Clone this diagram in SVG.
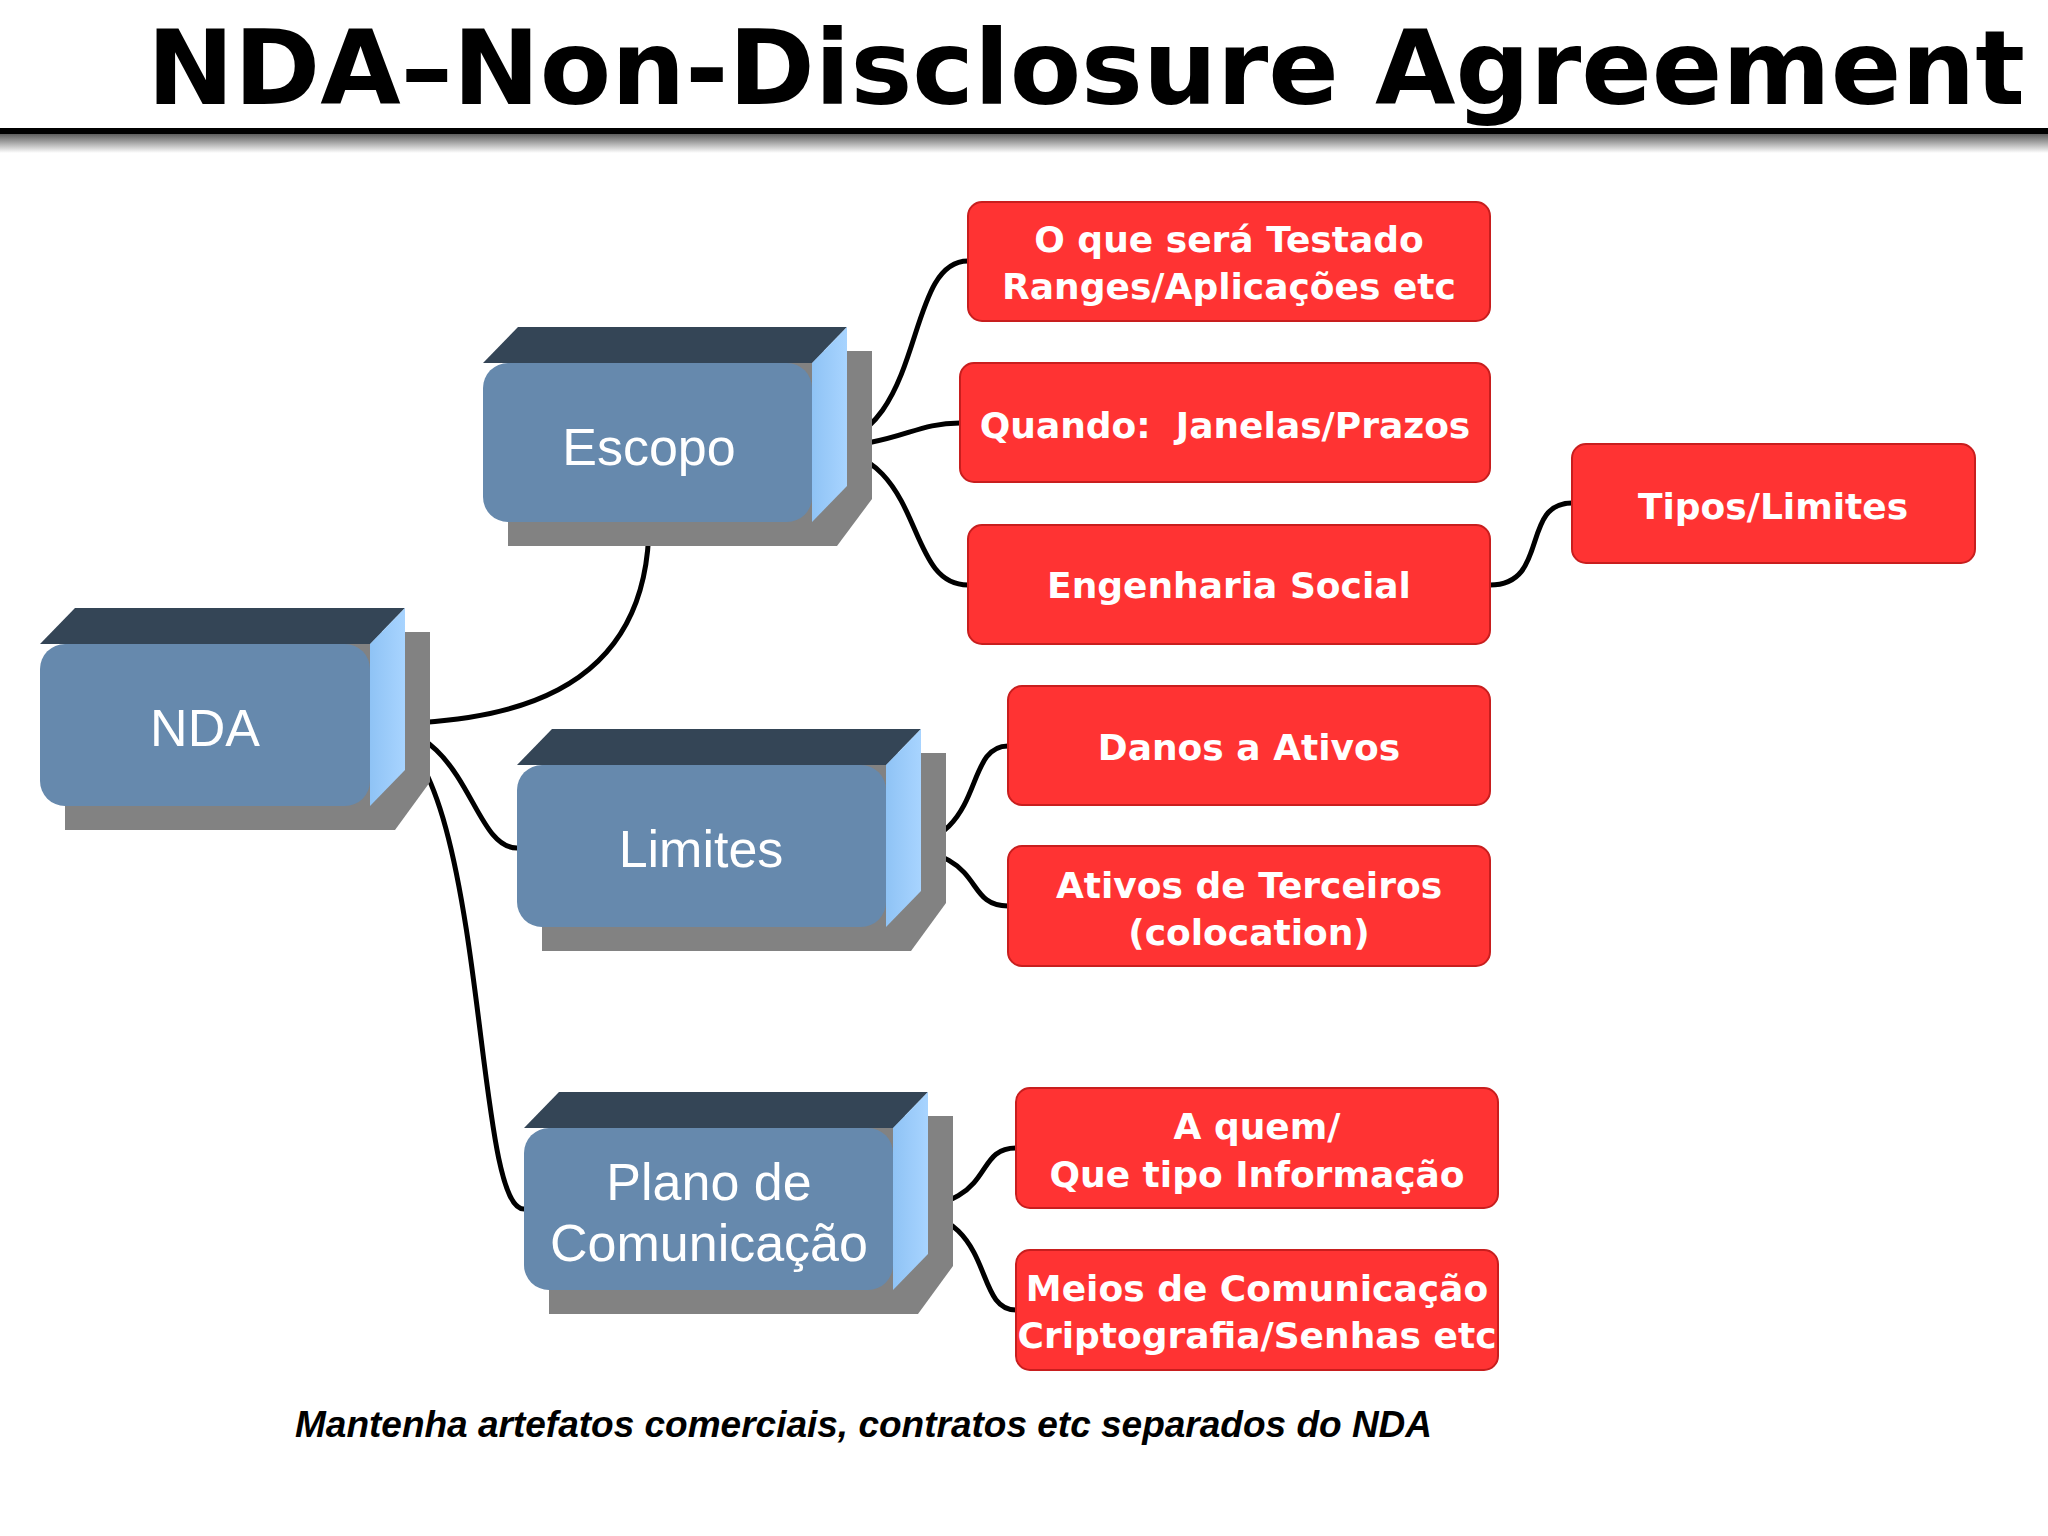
<svg xmlns="http://www.w3.org/2000/svg" width="2048" height="1536" viewBox="0 0 2048 1536">
<defs>
<linearGradient id="sh" x1="0" y1="0" x2="0" y2="1"><stop offset="0" stop-color="#555"/><stop offset="1" stop-color="#fff"/></linearGradient>
<linearGradient id="side" x1="0" y1="0" x2="1" y2="0"><stop offset="0" stop-color="#8fc3f5"/><stop offset="1" stop-color="#a8d4ff"/></linearGradient>
<style>
.sh{fill:#828282}.top{fill:#344556}.side{fill:url(#side)}.front{fill:#6689ad}
.bt{font-family:"Liberation Sans",Arial,sans-serif;font-size:52px;fill:#fff;text-anchor:middle}
.rb{fill:#ff3333;stroke:#c81e1e;stroke-width:2}
.rt{font-family:"DejaVu Sans",sans-serif;font-weight:bold;font-size:36px;fill:#fff;text-anchor:middle}
.c{fill:none;stroke:#000;stroke-width:5}
</style>
</defs>
<rect width="2048" height="1536" fill="#fff"/>
<text x="2025" y="104" font-family="DejaVu Sans, sans-serif" font-weight="bold" font-size="104" text-anchor="end">NDA–Non-Disclosure Agreement</text>
<rect x="0" y="133" width="2048" height="20" fill="url(#sh)"/>
<rect x="0" y="128" width="2048" height="6" fill="#000"/>

<g id="connectors">
<path class="c" d="M812,447 C930,447 900,261 968,261"/>
<path class="c" d="M812,447 C900,447 910,423 960,423"/>
<path class="c" d="M812,447 C930,447 900,585 968,585"/>
<path class="c" d="M1490,585 C1550,585 1520,503 1572,503"/>
<path class="c" d="M649,522 C649,700 500,724 370,724"/>
<path class="c" d="M370,724 C470,724 470,848 517,848"/>
<path class="c" d="M370,724 C490,724 470,1209 524,1209"/>
<path class="c" d="M886,848 C990,848 960,746 1008,746"/>
<path class="c" d="M886,848 C990,848 960,906 1008,906"/>
<path class="c" d="M893,1209 C1000,1209 970,1148 1016,1148"/>
<path class="c" d="M893,1209 C1000,1209 970,1310 1016,1310"/>
</g>

<g id="nda" transform="translate(40,644)">
<path class="sh" d="M25,24 L60,-12 L390,-12 L390,138 L355,186 L25,186 Z"/>
<path class="top" d="M0,0 L35,-36 L365,-36 L330,0 Z"/>
<path class="side" d="M330,0 L365,-36 L365,126 L330,162 Z"/>
<rect class="front" x="0" y="0" width="330" height="162" rx="25"/>
<text class="bt" x="165" y="102">NDA</text>
</g>
<g id="escopo" transform="translate(483,363)">
<path class="sh" d="M25,24 L60,-12 L389,-12 L389,136 L354,183 L25,183 Z"/>
<path class="top" d="M0,0 L35,-36 L364,-36 L329,0 Z"/>
<path class="side" d="M329,0 L364,-36 L364,123 L329,159 Z"/>
<rect class="front" x="0" y="0" width="329" height="159" rx="25"/>
<text class="bt" x="166" y="102">Escopo</text>
</g>
<g id="limites" transform="translate(517,765)">
<path class="sh" d="M25,24 L60,-12 L429,-12 L429,138 L394,186 L25,186 Z"/>
<path class="top" d="M0,0 L35,-36 L404,-36 L369,0 Z"/>
<path class="side" d="M369,0 L404,-36 L404,126 L369,162 Z"/>
<rect class="front" x="0" y="0" width="369" height="162" rx="25"/>
<text class="bt" x="184" y="102">Limites</text>
</g>
<g id="plano" transform="translate(524,1128)">
<path class="sh" d="M25,24 L60,-12 L429,-12 L429,138 L394,186 L25,186 Z"/>
<path class="top" d="M0,0 L35,-36 L404,-36 L369,0 Z"/>
<path class="side" d="M369,0 L404,-36 L404,126 L369,162 Z"/>
<rect class="front" x="0" y="0" width="369" height="162" rx="25"/>
<text class="bt" x="185" y="72">Plano de</text>
<text class="bt" x="185" y="133">Comunicação</text>
</g>

<g id="r1"><rect class="rb" x="968" y="202" width="522" height="119" rx="14"/><text class="rt" x="1229" y="252">O que será Testado</text><text class="rt" x="1229" y="299">Ranges/Aplicações etc</text></g>
<g id="r2"><rect class="rb" x="960" y="363" width="530" height="119" rx="14"/><text class="rt" x="1225" y="438" xml:space="preserve">Quando:  Janelas/Prazos</text></g>
<g id="r3"><rect class="rb" x="968" y="525" width="522" height="119" rx="14"/><text class="rt" x="1229" y="598">Engenharia Social</text></g>
<g id="r4"><rect class="rb" x="1572" y="444" width="403" height="119" rx="14"/><text class="rt" x="1773" y="519">Tipos/Limites</text></g>
<g id="r5"><rect class="rb" x="1008" y="686" width="482" height="119" rx="14"/><text class="rt" x="1249" y="760">Danos a Ativos</text></g>
<g id="r6"><rect class="rb" x="1008" y="846" width="482" height="120" rx="14"/><text class="rt" x="1249" y="898">Ativos de Terceiros</text><text class="rt" x="1249" y="945">(colocation)</text></g>
<g id="r7"><rect class="rb" x="1016" y="1088" width="482" height="120" rx="14"/><text class="rt" x="1257" y="1139">A quem/</text><text class="rt" x="1257" y="1187">Que tipo Informação</text></g>
<g id="r8"><rect class="rb" x="1016" y="1250" width="482" height="120" rx="14"/><text class="rt" x="1257" y="1301">Meios de Comunicação</text><text class="rt" x="1257" y="1348">Criptografia/Senhas etc</text></g>

<text x="295" y="1437" font-family="Liberation Sans, Arial, sans-serif" font-weight="bold" font-style="italic" font-size="37">Mantenha artefatos comerciais, contratos etc separados do NDA</text>
</svg>
